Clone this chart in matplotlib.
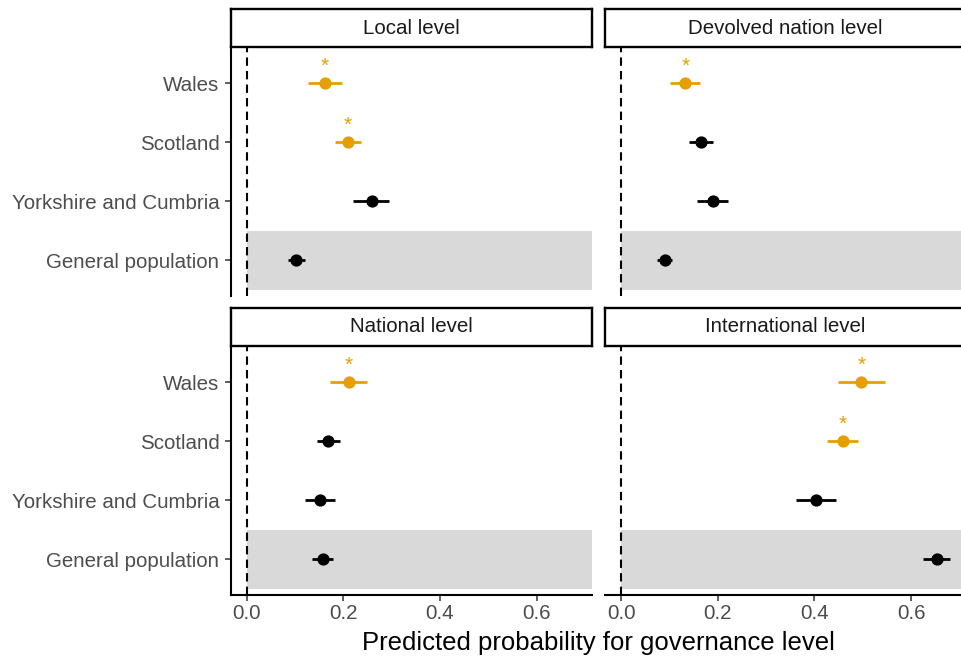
import matplotlib
matplotlib.use('Agg')

import matplotlib.pyplot as plt

plt.rcParams['font.family'] = ['Liberation Sans', 'DejaVu Sans']

# rows from bottom to top
regions = ['General population', 'Yorkshire and Cumbria', 'Scotland', 'Wales']
levels = ['Local level', 'Devolved nation level', 'National level', 'International level']

local_est = [0.103, 0.259, 0.209, 0.162]
local_lo = [0.085, 0.221, 0.183, 0.127]
local_hi = [0.120, 0.295, 0.236, 0.197]
local_sig = [False, False, True, True]

devolved_est = [0.090, 0.189, 0.165, 0.133]
devolved_lo = [0.074, 0.156, 0.140, 0.101]
devolved_hi = [0.106, 0.221, 0.189, 0.164]
devolved_sig = [False, False, False, True]

national_est = [0.157, 0.152, 0.169, 0.212]
national_lo = [0.136, 0.121, 0.145, 0.172]
national_hi = [0.179, 0.182, 0.193, 0.250]
national_sig = [False, False, False, True]

intl_est = [0.653, 0.404, 0.459, 0.497]
intl_lo = [0.625, 0.362, 0.426, 0.449]
intl_hi = [0.681, 0.444, 0.491, 0.545]
intl_sig = [False, False, True, True]

xticks = [0.0, 0.2, 0.4, 0.6]

panels = [
    (local_est, local_lo, local_hi, local_sig),
    (devolved_est, devolved_lo, devolved_hi, devolved_sig),
    (national_est, national_lo, national_hi, national_sig),
    (intl_est, intl_lo, intl_hi, intl_sig),
]

W, H = 961, 660
fig = plt.figure(figsize=(W / 100, H / 100), dpi=100)

orange = '#E69F00'
lefts = [230.5, 605]
tops = [48, 347]
pw, ph = 361.2, 247.5
strip_h = 38

for i, (est, lo, hi, sig) in enumerate(panels):
    col, row = i % 2, i // 2
    x0, y0 = lefts[col], tops[row]
    ax = fig.add_axes([x0 / W, 1 - (y0 + ph) / H, pw / W, ph / H])
    ax.set_xlim(-0.0335, 0.714)
    ax.set_ylim(0.4, 4.6)
    ypos = list(range(1, len(regions) + 1))

    # shaded reference row
    ax.fill_between([0, 0.714], 0.5, 1.5, color='#D9D9D9', lw=0, zorder=0)
    ax.axvline(0, color='black', lw=1.5, ls=(0, (4, 2.5)), zorder=1)

    for y, e, l, h, s in zip(ypos, est, lo, hi, sig):
        c = orange if s else 'black'
        ax.hlines(y, l, h, color=c, lw=2.0, zorder=2)
        ax.plot(e, y, 'o', color=c, ms=7.8, zorder=3)
        if s:
            ax.text(e, y + 0.13, '*', color=orange, ha='center', va='bottom',
                    fontsize=15)

    for sp in ['top', 'right']:
        ax.spines[sp].set_visible(False)
    ax.spines['left'].set_visible(col == 0)
    ax.spines['bottom'].set_visible(row == 1)
    for sp in ['left', 'bottom']:
        ax.spines[sp].set_linewidth(1.5)

    ax.set_yticks(ypos)
    if col == 0:
        ax.set_yticklabels(regions, fontsize=14.8, color='#4D4D4D')
        ax.tick_params(axis='y', length=4, width=1.1, color='#333333', pad=4)
    else:
        ax.set_yticklabels([])
        ax.tick_params(axis='y', length=0)

    ax.set_xticks(xticks)
    if row == 1:
        ax.set_xticklabels(['%.1f' % t for t in xticks], fontsize=14.8, color='#4D4D4D')
        ax.tick_params(axis='x', length=4, width=1.1, color='#333333', pad=3)
    else:
        ax.set_xticklabels([])
        ax.tick_params(axis='x', length=0)

    # facet strip
    sax = fig.add_axes([x0 / W, 1 - (y0 - 1) / H, pw / W, strip_h / H])
    sax.set_xticks([])
    sax.set_yticks([])
    for sp in sax.spines.values():
        sp.set_linewidth(1.7)
        sp.set_color('black')
    sax.text(0.5, 0.5, levels[i], ha='center', va='center', fontsize=14.8,
             color='#1A1A1A', transform=sax.transAxes)

fig.text(598 / W, 1 - 643 / H, 'Predicted probability for governance level',
         ha='center', va='center', fontsize=18.5, color='black')

fig.savefig('out.png', dpi=100)
